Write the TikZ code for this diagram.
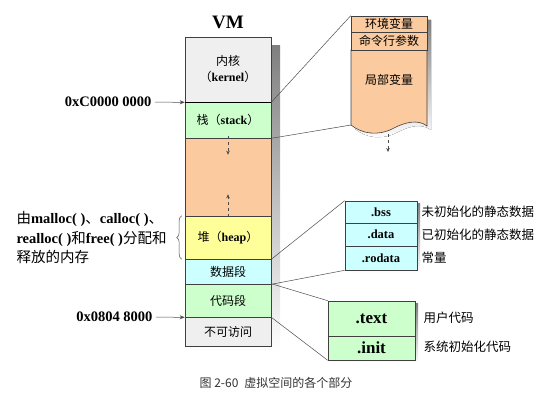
\documentclass[tikz,border=0pt]{standalone}
\usepackage{fontspec}
\setmainfont{Liberation Serif}
\newfontfamily\cjk{Noto Sans CJK SC}
\usetikzlibrary{arrows.meta,decorations.pathreplacing}
\definecolor{kgray}{HTML}{EFEFEF}
\definecolor{sgreen}{HTML}{CCFFCC}
\definecolor{horange}{HTML}{FBCA9E}
\definecolor{hyellow}{HTML}{FFFF99}
\definecolor{dcyan}{HTML}{CCFFFF}
\definecolor{shade}{HTML}{C4C4C4}
\newcommand{\en}[1]{{\rmfamily\bfseries #1}}
\tikzset{
  seg/.style={draw=black!75, line width=.6pt, minimum width=86pt, inner sep=0pt,
    align=center, font=\cjk\fontsize{12}{16}\selectfont},
  stkbox/.style={seg, fill=horange, minimum width=76pt},
  datbox/.style={seg, fill=dcyan, minimum width=72pt, font=\cjk\fontsize{12.5}{14}\selectfont},
  txtbox/.style={seg, fill=sgreen, minimum width=87pt, font=\rmfamily\bfseries\fontsize{17}{18}\selectfont},
  lbl/.style={anchor=west, font=\cjk\fontsize{12.5}{14}\selectfont},
  addr/.style={anchor=east, font=\rmfamily\bfseries\fontsize{14.5}{16}\selectfont},
  link/.style={draw=black!70, line width=.5pt},
  darr/.style={draw=black!70, dashed, -{Stealth[length=4pt,width=3.5pt]}}
}
\begin{document}
\begin{tikzpicture}[x=1pt,y=-1pt]
  \useasboundingbox (0,0) rectangle (558,414);
  \fill [shade] (193,46) rectangle (280,354);
  \node [font=\rmfamily\bfseries\fontsize{19}{19}\selectfont] (vm) at (228,22) {VM};
  \node [seg, fill=kgray, minimum height=65pt] (kern) at (228,69.5) {内核\\（\en{kernel}）};
  \node [seg, fill=sgreen, minimum height=36pt] (stk) at (228,120) {栈（\en{stack}）};
  \node [seg, fill=horange, minimum height=78pt] (free) at (228,177) {};
  \node [seg, fill=hyellow, minimum height=43pt] (hp) at (228,237.5) {堆（\en{heap}）};
  \node [seg, fill=dcyan, minimum height=25pt] (dat) at (228,271.5) {数据段};
  \node [seg, fill=sgreen, minimum height=33pt] (cod) at (228,300.5) {代码段};
  \node [seg, fill=kgray, minimum height=29pt] (noacc) at (228,331.5) {不可访问};
  \draw [line width=1pt] (kern.south west) -- (kern.south east);
  \draw [darr] ([yshift=2pt]free.north) -- ++(0,19);
  \draw [darr] ([yshift=-1pt]free.south) -- ++(0,-23);

  \node [addr] (hi) at (155,102) {0xC0000 0000};
  \node [addr] (lo) at (156,317) {0x0804 8000};
  \draw [link, -{Stealth[length=5pt,width=4pt]}] (hi) -- (kern.south west);
  \draw [link, -{Stealth[length=5pt,width=4pt]}] (lo) -- (cod.south west);

  \draw [link, decorate, decoration={brace, amplitude=5pt}]
    ([xshift=-3pt]hp.south west) -- ([xshift=-3pt]hp.north west);
  \node [anchor=west, align=left, font=\cjk\fontsize{14.5}{19.5}\selectfont] (note) at (13,238)
    {由\en{malloc( )}、\en{calloc( )}、\\\en{realloc( )}和\en{free( )}分配和\\释放的内存};

  \fill [shade] (355,20) -- (355,129) .. controls (366,138) and (382,140) .. (396,133)
    .. controls (409,126) and (422,123) .. (431,130) -- (431,20) -- cycle;
  \filldraw [fill=horange, draw=black!75, line width=.6pt] (351,50) -- (351,125)
    .. controls (362,134) and (378,136) .. (392,129)
    .. controls (405,122) and (418,119) .. (427,126) -- (427,50) -- cycle;
  \coordinate (lvb) at (351,125);
  \node [stkbox, minimum height=16pt] (env) at (389,24) {环境变量};
  \node [stkbox, minimum height=18pt] (args) at (389,41) {命令行参数};
  \node [font=\cjk\fontsize{12}{14}\selectfont] (lv) at (389,80) {局部变量};
  \coordinate (lva) at (388,134);
  \coordinate (lvc) at (388,152);
  \draw [darr] (lva) -- (lvc);
  \draw [link] (kern.south east) -- (env.north west);
  \draw [link] (stk.south east) -- (lvb);

  \fill [shade] (348,204) rectangle (420,273);
  \node [datbox, minimum height=22pt] (bss) at (381,212) {\en{.bss}};
  \node [datbox, minimum height=23pt] (dsec) at (381,234.5) {\en{.data}};
  \node [datbox, minimum height=24pt] (rod) at (381,258) {\en{.rodata}};
  \node [lbl] (l1) at (418,212) {未初始化的静态数据};
  \node [lbl] (l2) at (418,234.5) {已初始化的静态数据};
  \node [lbl] (l3) at (418,258) {常量};
  \draw [link] (hp.south east) -- (bss.north west);
  \draw [link] (dat.south east) -- (rod.south west);

  \fill [shade] (331,304) rectangle (418,363);
  \node [txtbox, minimum height=35pt] (txt) at (371.5,318.5) {.text};
  \node [txtbox, minimum height=24pt] (ini) at (371.5,348) {.init};
  \node [lbl] (l4) at (420,318) {用户代码};
  \node [lbl] (l5) at (420,347) {系统初始化代码};
  \draw [link] (cod.north east) -- (txt.north west);
  \draw [link] (cod.south east) -- (ini.south west);

  \node [font=\cjk\fontsize{12}{14}\selectfont, text=black!80] (cap) at (276,383) {图 2-60\enspace 虚拟空间的各个部分};
\end{tikzpicture}
\end{document}
